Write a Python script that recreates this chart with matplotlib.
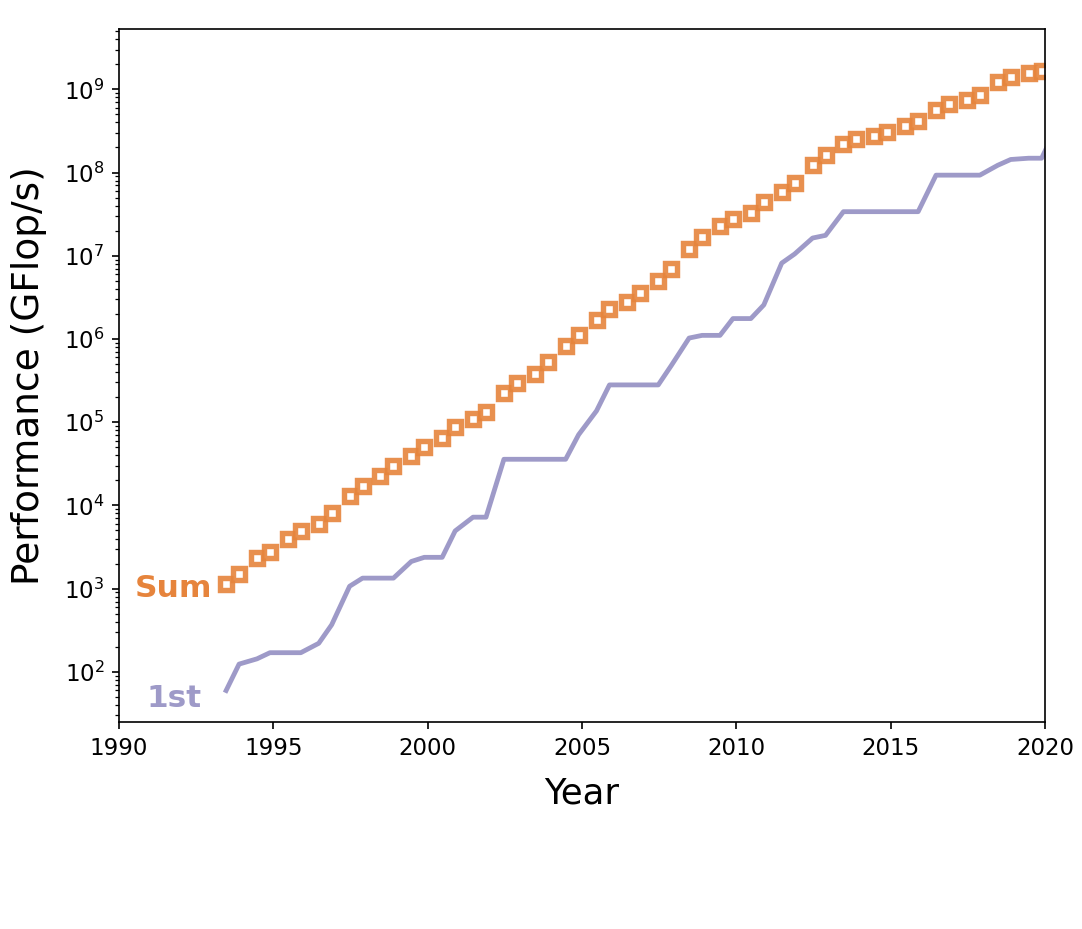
import numpy as np
import matplotlib
matplotlib.use('Agg')
from matplotlib import pyplot as plt

# TOP500 lists, June and November of each year, 1993-2020
years = np.arange(1993, 2021)
list_dates = []
for y in years:
    list_dates.append(y + 0.47)   # June list
    list_dates.append(y + 0.89)   # November list
list_dates = np.array(list_dates[:-1])  # no Nov 2020 list

# Rmax of the number one system (GFlop/s)
first = [59.7, 124.0, 143.4, 170.0, 170.0, 170.0, 220.4, 368.2,
         1068, 1338, 1338, 1338, 2121, 2379, 2379, 4938,
         7226, 7226, 35860, 35860, 35860, 35860, 35860, 70720,
         136800, 280600, 280600, 280600, 280600, 478200, 1026000, 1105000,
         1105000, 1759000, 1759000, 2566000, 8162000, 10510000, 16324750, 17590000,
         33862700, 33862700, 33862700, 33862700, 33862700, 33862700, 93014600, 93014600,
         93014600, 93014600, 122300000, 143500000, 148600000, 148600000, 415530000]

# summed Rmax of all 500 systems (GFlop/s)
total = [1128, 1493, 2317, 2732, 3994, 4920, 6030, 8040,
         12940, 17120, 22600, 29400, 39100, 50900, 64400, 88000,
         108000, 134000, 222000, 293000, 375000, 528000, 813000, 1127000,
         1690000, 2300000, 2790000, 3540000, 4920000, 6970000, 12200000, 16950000,
         22600000, 27900000, 32400000, 43700000, 58900000, 74200000, 123400000, 162000000,
         223000000, 250000000, 274000000, 309000000, 361000000, 420000000, 567000000, 672000000,
         749000000, 845000000, 1220000000, 1410000000, 1560000000, 1650000000, 2220000000]

orange = '#e6843c'
purple = '#9e9ac8'

fig = plt.figure(figsize=(1082/150, 929/150), dpi=150)
ax = fig.add_axes([0.110, 0.2228, 0.8558, 0.746])

ax.plot(list_dates, first, color=purple, lw=2.3)
ax.plot(list_dates, total, ls='none', marker='s', ms=5.3, mew=2.6,
        mec=orange, mfc='white', alpha=0.9)

ax.set_yscale('log')
ax.set_xlim(1990, 2020)
ax.set_xticks([1990, 1995, 2000, 2005, 2010, 2015, 2020])

ax.text(1990.5, 1e3, 'Sum', color=orange, fontsize=15, fontweight='bold', va='center')
ax.text(1990.9, 48, '1st', color=purple, fontsize=15, fontweight='bold', va='center')

ax.set_xlabel('Year', fontsize=17, labelpad=8)
ax.set_ylabel('Performance (GFlop/s)', fontsize=18, labelpad=8)
ax.tick_params(labelsize=11)

fig.savefig('out.png', dpi=150)
